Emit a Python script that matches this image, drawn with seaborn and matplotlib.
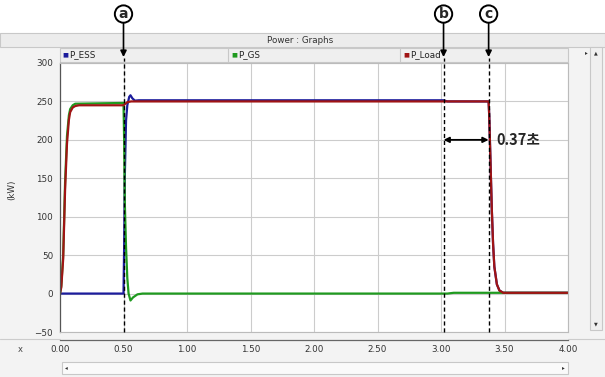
import matplotlib
matplotlib.use('Agg')
import matplotlib.pyplot as plt
from matplotlib.patches import Rectangle
import seaborn as sns
import pandas as pd

# --- data (time in s, power in kW) ---
t_ess = [0.0, 0.50, 0.505, 0.51, 0.52, 0.53, 0.545, 0.555, 0.57, 0.59, 0.62, 3.02, 3.05,
         3.375, 3.38, 3.39, 3.40, 3.41, 3.42, 3.44, 3.46, 3.49, 4.0]
p_ess = [0, 0, 60, 150, 225, 245, 256, 258, 254, 251, 251.5, 251.5, 250,
         250, 230, 170, 110, 65, 35, 12, 4, 1, 1]

t_gs = [0.0, 0.01, 0.025, 0.04, 0.055, 0.07, 0.08, 0.10, 0.12, 0.50, 0.505, 0.51, 0.52,
        0.53, 0.54, 0.555, 0.575, 0.61, 0.65, 3.05, 3.10, 4.0]
p_gs = [0, 10, 50, 145, 205, 232, 240, 245, 247, 248, 200, 120, 60,
        20, 0, -9, -5, -1, 0, 0, 1, 1]

t_load = [0.0, 0.01, 0.025, 0.04, 0.055, 0.07, 0.08, 0.10, 0.12, 0.15, 0.50, 0.53, 0.56,
          3.375, 3.38, 3.39, 3.40, 3.41, 3.42, 3.44, 3.46, 3.49, 4.0]
p_load = [0, 8, 45, 135, 195, 226, 236, 242, 244, 245, 245, 249, 250,
          250, 230, 170, 110, 65, 35, 12, 4, 1, 1]

series_names = ['P_ESS', 'P_GS', 'P_Load']
series_colors = ['#1c1c9c', '#1f9a1f', '#a01414']
events = ['a', 'b', 'c']
event_times = [0.5, 3.02, 3.375]
y_ticks = [-50, 0, 50, 100, 150, 200, 250, 300]
x_ticks = [0.0, 0.5, 1.0, 1.5, 2.0, 2.5, 3.0, 3.5, 4.0]

df = pd.concat([
    pd.DataFrame({'t': t_ess, 'p': p_ess, 'sig': 'P_ESS'}),
    pd.DataFrame({'t': t_gs, 'p': p_gs, 'sig': 'P_GS'}),
    pd.DataFrame({'t': t_load, 'p': p_load, 'sig': 'P_Load'}),
])

sns.set_style('white')
plt.rcParams['font.family'] = ['DejaVu Sans']

W, H = 605, 377
fig = plt.figure(figsize=(W / 100, H / 100), dpi=100)
fig.patch.set_facecolor('white')


def px(x0, y0, x1, y1):
    # pixel box (top-left origin) -> figure fraction rect
    return [x0 / W, 1 - y1 / H, (x1 - x0) / W, (y1 - y0) / H]


def frect(x0, y0, x1, y1, **kw):
    l, b, w, h = px(x0, y0, x1, y1)
    fig.add_artist(Rectangle((l, b), w, h, transform=fig.transFigure, zorder=-10, **kw))


# window chrome
frect(0, 33, 605, 377, fc='#f3f3f3', ec='none')
frect(0, 33, 605, 47, fc='#ececec', ec='#c8c8c8', lw=0.8)
fig.text(300 / W, 1 - 40.5 / H, 'Power : Graphs', fontsize=6.3, ha='center', va='center', color='#333333')
frect(60, 48, 568, 62, fc='#efefef', ec='#c8c8c8', lw=0.8)
for sx in [228, 400]:
    fig.add_artist(plt.Line2D([sx / W] * 2, [1 - 48 / H, 1 - 62 / H], color='#c8c8c8', lw=0.8,
                              transform=fig.transFigure))
# right scrollbar
frect(590, 47, 602, 330, fc='#f0f0f0', ec='#c8c8c8', lw=0.8)
fig.text(596 / W, 1 - 53 / H, '▲', fontsize=3.5, ha='center', va='center', color='#333333')
fig.text(596 / W, 1 - 324 / H, '▼', fontsize=3.5, ha='center', va='center', color='#333333')
fig.text(588 / W, 1 - 53 / H, '▸', fontsize=4, ha='right', va='center', color='#333333')
# bottom scrollbar
frect(62, 362, 568, 374, fc='#fafafa', ec='#c8c8c8', lw=0.8)
fig.text(66 / W, 1 - 368 / H, '◂', fontsize=4, ha='center', va='center', color='#333333')
fig.text(563 / W, 1 - 368 / H, '▸', fontsize=4, ha='center', va='center', color='#333333')
fig.text(20 / W, 1 - 350 / H, 'x', fontsize=6, ha='center', va='center', color='#444444')

# legend strip entries
leg_x = [62, 231, 403]
for name, col, lx in zip(series_names, series_colors, leg_x):
    fig.text(lx / W, 1 - 55 / H, '■', fontsize=4.5, color=col, ha='left', va='center')
    fig.text((lx + 7) / W, 1 - 55 / H, name, fontsize=6.3, color='#222222', ha='left', va='center')

# main plot
ax = fig.add_axes(px(60, 63, 568, 332))
ax.set_facecolor('white')
sns.lineplot(data=df, x='t', y='p', hue='sig', palette=dict(zip(series_names, series_colors)),
             hue_order=series_names, lw=1.6, ax=ax, legend=False, estimator=None, sort=False)
ax.set_xlim(0, 4)
ax.set_ylim(-50, 300)
ax.set_yticks(y_ticks)
ax.set_xticks(x_ticks)
ax.set_xticklabels([])
ax.tick_params(axis='y', labelsize=6.3, length=3, colors='#333333', pad=2)
ax.tick_params(axis='x', length=0)
ax.grid(True, color='#cccccc', lw=0.8)
ax.set_axisbelow(True)
for s in ['top', 'right', 'bottom']:
    ax.spines[s].set_color('#bbbbbb')
    ax.spines[s].set_linewidth(0.8)
ax.spines['left'].set_color('#555555')
ax.spines['left'].set_linewidth(0.9)
ax.set_xlabel('')
ax.set_ylabel('')
fig.text(12 / W, 1 - 190 / H, '(kW)', fontsize=6.3, rotation=90, ha='center', va='center', color='#333333')

# bottom time scale
ax2 = fig.add_axes(px(60, 339, 568, 339.5))
ax2.set_xlim(0, 4)
ax2.set_facecolor('none')
ax2.set_yticks([])
ax2.set_xticks(x_ticks)
ax2.set_xticklabels([f'{v:.2f}' for v in x_ticks])
ax2.tick_params(axis='x', direction='in', length=3, labelsize=6.3, colors='#333333', pad=4)
for s in ['top', 'right', 'left']:
    ax2.spines[s].set_visible(False)
ax2.spines['bottom'].set_color('#666666')
ax2.spines['bottom'].set_linewidth(0.9)
fig.add_artist(plt.Line2D([0, 60 / W], [1 - 339 / H] * 2, color='#cccccc', lw=0.8, transform=fig.transFigure))
fig.add_artist(plt.Line2D([568 / W, 1], [1 - 339 / H] * 2, color='#cccccc', lw=0.8, transform=fig.transFigure))

# event markers
for lab, et in zip(events, event_times):
    ax.axvline(et, ymin=0, ymax=1.02, color='black', ls=(0, (3, 2)), lw=1.0, clip_on=False, zorder=5)
    ax.annotate(lab, xy=(et, 1.022), xycoords=('data', 'axes fraction'),
                xytext=(et, 1.182), textcoords=('data', 'axes fraction'),
                ha='center', va='center', fontsize=10, fontweight='bold',
                bbox=dict(boxstyle='circle,pad=0.12', fc='white', ec='black', lw=1.4),
                arrowprops=dict(arrowstyle='-|>', color='black', lw=1.2, mutation_scale=9,
                                shrinkA=0, shrinkB=0))

# interval b -> c
ax.annotate('', xy=(event_times[1], 200), xytext=(event_times[2], 200),
            arrowprops=dict(arrowstyle='<|-|>', color='black', lw=1.3, mutation_scale=8,
                            shrinkA=0, shrinkB=0), zorder=6)
ax.text(event_times[2] + 0.06, 200, '0.37초', fontsize=10.5, fontweight='bold', ha='left', va='center',
        family=['Noto Sans CJK KR', 'DejaVu Sans'], zorder=6)

fig.savefig('out.png', dpi=100)
